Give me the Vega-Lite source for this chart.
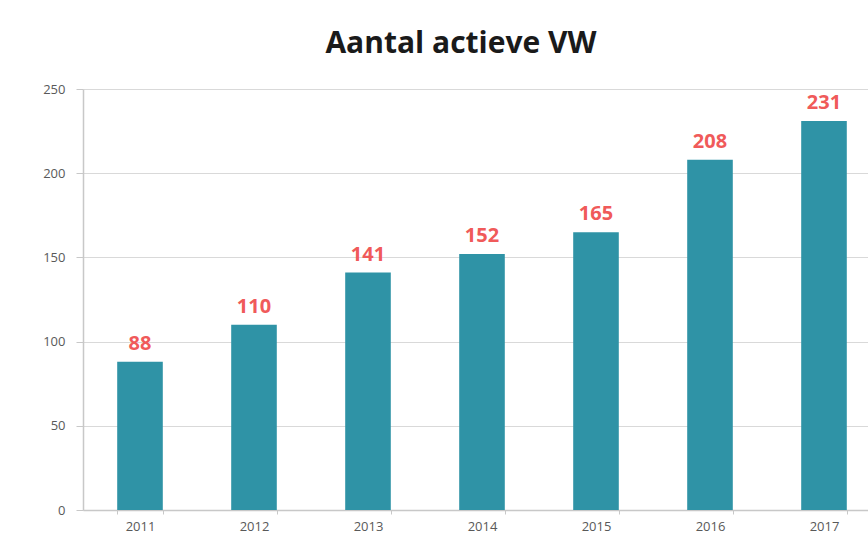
{
  "$schema": "https://vega.github.io/schema/vega-lite/v6.json",
  "autosize": {"type": "none"},
  "width": 798,
  "height": 421,
  "padding": {"left": 83, "top": 89, "right": 0, "bottom": 39},
  "background": "#ffffff",
  "title": {
    "text": "Aantal actieve VW",
    "font": "Open Sans",
    "fontSize": 30,
    "fontWeight": "bold",
    "color": "#1a1a1a",
    "anchor": "middle",
    "dx": -21,
    "offset": 24
  },
  "data": {
    "values": [
      {"jaar": "2011", "aantal": 88},
      {"jaar": "2012", "aantal": 110},
      {"jaar": "2013", "aantal": 141},
      {"jaar": "2014", "aantal": 152},
      {"jaar": "2015", "aantal": 165},
      {"jaar": "2016", "aantal": 208},
      {"jaar": "2017", "aantal": 231}
    ]
  },
  "config": {
    "view": {"stroke": null},
    "axis": {
      "labelFont": "Open Sans",
      "labelFontSize": 13,
      "labelColor": "#595959",
      "domainColor": "#c8c8c8",
      "tickColor": "#c8c8c8",
      "gridColor": "#d9d9d9"
    }
  },
  "encoding": {
    "x": {
      "field": "jaar",
      "type": "nominal",
      "scale": {"paddingInner": 0.6, "paddingOuter": 0.3},
      "axis": {"title": null, "labelAngle": 0, "tickBand": "extent", "tickSize": 4, "labelPadding": 6, "domainWidth": 1.5}
    },
    "y": {
      "field": "aantal",
      "type": "quantitative",
      "scale": {"domain": [0, 250], "nice": false},
      "axis": {"title": null, "values": [0, 50, 100, 150, 200, 250], "tickSize": 7, "labelPadding": 11, "domain": true, "domainWidth": 1.5, "gridWidth": 1.2}
    }
  },
  "layer": [
    {"mark": {"type": "bar", "color": "#2f93a6"}},
    {
      "mark": {"type": "text", "baseline": "bottom", "dy": -8, "font": "Open Sans", "fontSize": 20, "fontWeight": "bold", "color": "#f05a5a"},
      "encoding": {"text": {"field": "aantal", "type": "quantitative"}}
    }
  ]
}
